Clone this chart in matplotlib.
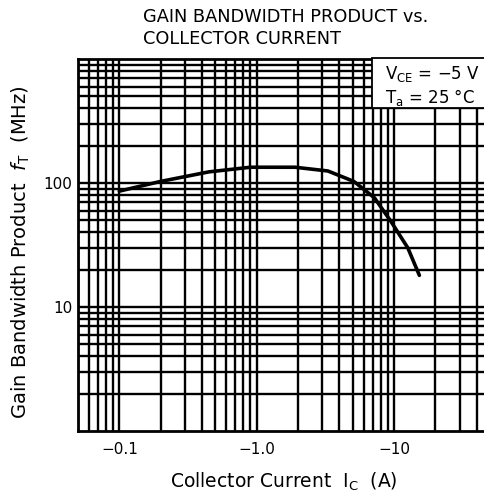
import numpy as np
import matplotlib
matplotlib.use('Agg')
import matplotlib.pyplot as plt
from matplotlib.patches import Rectangle
from matplotlib.ticker import FixedLocator, NullFormatter, LogLocator

# curva fT x Ic (|Ic| em A)
ic = [0.1, 0.2, 0.45, 0.9, 1.9, 3.3, 5.1, 7.2, 9.5, 12.6, 15.3]
ft = [86, 103, 123, 134, 134, 125, 103, 76, 49, 30, 18]

xticks = [0.1, 1.0, 10]
xticklabels = ['\u22120.1', '\u22121.0', '\u221210']
yticks = [10, 100]
yticklabels = ['10', '100']

W, H = 485, 499
fig = plt.figure(figsize=(W / 100, H / 100), dpi=100)
ax = fig.add_axes([78 / W, 1 - 431 / H, 412 / W, 372 / H])

ax.set_xscale('log')
ax.set_yscale('log')
ax.set_xlim(0.05, 50)
ax.set_ylim(1, 1000)

ax.plot(ic, ft, color='black', lw=2.6, solid_capstyle='round')

# grade pesada tipo datasheet
ax.xaxis.set_minor_locator(LogLocator(base=10, subs=np.arange(2, 10)))
ax.yaxis.set_minor_locator(LogLocator(base=10, subs=np.arange(2, 10)))
ax.xaxis.set_minor_formatter(NullFormatter())
ax.yaxis.set_minor_formatter(NullFormatter())
ax.grid(True, which='both', color='black', lw=1.7)
ax.set_axisbelow(True)

ax.xaxis.set_major_locator(FixedLocator(xticks))
ax.set_xticklabels(xticklabels)
ax.yaxis.set_major_locator(FixedLocator(yticks))
ax.set_yticklabels(yticklabels)
ax.tick_params(axis='x', which='both', length=0, labelsize=11, pad=8)
ax.tick_params(axis='y', which='both', length=0, labelsize=11, pad=4)

for s in ax.spines.values():
    s.set_linewidth(2)

ax.set_xlabel(r'Collector Current  I$_\mathrm{C}$  (A)', fontsize=13.5, labelpad=10)
ax.set_ylabel(r'Gain Bandwidth Product  $f_\mathrm{T}$  (MHz)', fontsize=14)
ax.yaxis.set_label_coords(-0.112, 0.48)

# caixa de condicoes
fig.patches.append(Rectangle((372 / W, 1 - 108 / H), 120 / W, 50 / H,
                             transform=fig.transFigure, fc='white', ec='black',
                             lw=1.3, zorder=5))
fig.text(385 / W, 1 - 74 / H, 'V$_\\mathrm{CE}$ = \u22125 V', ha='left',
         va='center', fontsize=12, zorder=6)
fig.text(385 / W, 1 - 97 / H, 'T$_\\mathrm{a}$ = 25 \u00b0C', ha='left',
         va='center', fontsize=12, zorder=6)

fig.text(143 / W, 1 - 8 / H,
         'GAIN BANDWIDTH PRODUCT vs.\nCOLLECTOR CURRENT',
         ha='left', va='top', fontsize=12.8, linespacing=1.25)

fig.savefig('out.png', dpi=100)
